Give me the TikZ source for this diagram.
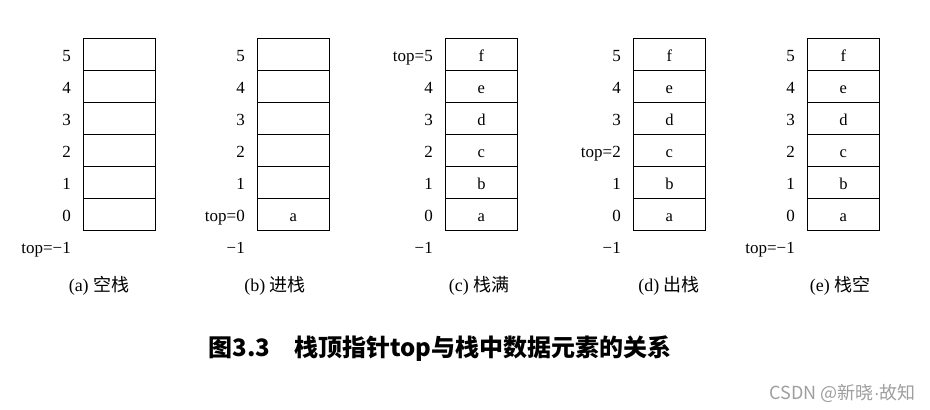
\documentclass[tikz,border=0pt]{standalone}
\usepackage{fontspec}
\setmainfont{Liberation Serif}
\newfontfamily\cjk{Noto Sans CJK SC}
\newfontfamily\lsans{Liberation Sans}
\begin{document}
\begin{tikzpicture}[x=1pt,y=-1pt,
  cell/.style={draw, line width=0.8pt, minimum width=72pt, minimum height=32pt,
    inner sep=0pt, anchor=north west},
  val/.style={anchor=base, inner sep=0pt, font=\fontsize{16.5}{16.5}\selectfont},
  idx/.style={anchor=base east, inner sep=0pt, font=\fontsize{17}{17}\selectfont},
  capt/.style={anchor=base, inner sep=0pt, font=\fontsize{18}{18}\selectfont},
  ttl/.style={anchor=base, inner sep=0pt, font=\cjk\bfseries\fontsize{24}{24}\selectfont},
  wmark/.style={anchor=base east, inner sep=0pt, text=black!38, font=\cjk\fontsize{18}{18}\selectfont}]
\useasboundingbox (0,0) rectangle (930,410);
% stack cells
\foreach \s/\x in {a/83,b/257,c/445,d/633,e/807}{
  \foreach \k in {0,...,5}{
    \node[cell] (\s\k) at (\x,{198-32*\k}) {};
  }
}
% stack contents
\node[val] (vb0) at ([yshift=-7pt]b0.center) {a};
\foreach \s in {c,d,e}{
  \foreach \k/\t in {0/a,1/b,2/c,3/d,4/e,5/f}{
    \node[val] (v\s\k) at ([yshift=-7pt]\s\k.center) {\t};
  }
}
% index labels
\foreach \s/\l in {a/{5,4,3,2,1,0},b/{5,4,3,2,1,top=0},c/{top=5,4,3,2,1,0},d/{5,4,3,top=2,1,0},e/{5,4,3,2,1,0}}{
  \foreach \t [count=\i from 0] in \l{
    \pgfmathtruncatemacro{\k}{5-\i}
    \node[idx] (i\s\k) at ([xshift=-12pt,yshift=-7.5pt]\s\k.west) {\t};
  }
}
\node[idx] (ima) at ([xshift=-12pt,yshift=-39.5pt]a0.west) {top=−1};
\node[idx] (imb) at ([xshift=-12pt,yshift=-39.5pt]b0.west) {−1};
\node[idx] (imc) at ([xshift=-12pt,yshift=-39.5pt]c0.west) {−1};
\node[idx] (imd) at ([xshift=-12pt,yshift=-39.5pt]d0.west) {−1};
\node[idx] (ime) at ([xshift=-12pt,yshift=-39.5pt]e0.west) {top=−1};
% captions
\node[capt] (ca) at (99,291) {(a) {\cjk 空栈}};
\node[capt] (cb) at (275,291) {(b) {\cjk 进栈}};
\node[capt] (cc) at (479,291) {(c) {\cjk 栈满}};
\node[capt] (cd) at (669,291) {(d) {\cjk 出栈}};
\node[capt] (ce) at (840,291) {(e) {\cjk 栈空}};
% title
\node[ttl] (t) at (440,356) {图3.3\hspace{1em}栈顶指针top与栈中数据元素的关系};
% watermark
\node[wmark] (w) at (916,399) {CSDN @新晓{\lsans ·}故知};
\end{tikzpicture}
\end{document}
